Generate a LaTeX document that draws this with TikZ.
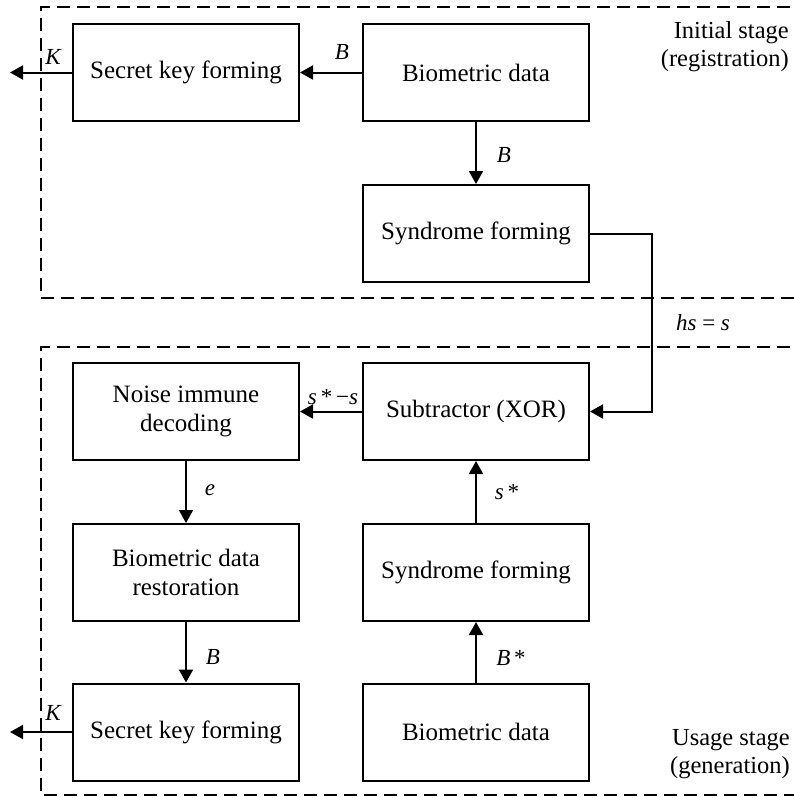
\documentclass[tikz,border=0pt]{standalone}
\usepackage{fontspec}
\setmainfont{Liberation Serif}
\usetikzlibrary{arrows.meta}
\tikzset{
  blk/.style={draw, line width=2pt, minimum width=226pt, minimum height=97pt, inner sep=0pt, align=center, font=\fontsize{25}{29}\selectfont},
  conn/.style={line width=2pt, -{Triangle[length=13pt,width=14pt]}},
  lbl/.style={font=\fontsize{23}{26}\itshape, inner sep=0pt},
  stage/.style={align=right, anchor=east, font=\fontsize{24.5}{28}\selectfont, inner sep=0pt},
  frame/.style={line width=1.6pt, dash pattern=on 13pt off 7pt}
}
\begin{document}
\begin{tikzpicture}[x=1pt,y=-1pt]
\useasboundingbox (0,0) rectangle (794,798);
% frames
\draw[frame] (810,7) -- (41,7) -- (41,298) -- (810,298);
\draw[frame] (810,347) -- (41,347) -- (41,795) -- (810,795);
% blocks
\node[blk] (sk1) at (186,72.5) {Secret key forming};
\node[blk] (bd1) at (476,72.5) {Biometric data};
\node[blk] (sf1) at (476,233.5) {Syndrome forming};
\node[blk] (nd) at (186,411.5) {Noise immune\\decoding};
\node[blk] (sub) at (476,411.5) {Subtractor (XOR)};
\node[blk] (br) at (186,572.5) {Biometric data\\restoration};
\node[blk] (sf2) at (476,572.5) {Syndrome forming};
\node[blk] (sk2) at (186,732) {Secret key forming};
\node[blk] (bd2) at (476,732) {Biometric data};
% free ends
\coordinate (k1) at (10,72.5);
\coordinate (k2) at (10,732);
\coordinate (c1) at (652,233.5);
\coordinate (c2) at (652,411.5);
% connectors
\draw[conn] (bd1.west) -- (sk1.east);
\draw[conn] (sk1.west) -- (k1);
\draw[conn] (bd1.south) -- (sf1.north);
\draw[conn] (sf1.east) -- (c1) -- (c2) -- (sub.east);
\draw[conn] (sub.west) -- (nd.east);
\draw[conn] (nd.south) -- (br.north);
\draw[conn] (sf2.north) -- (sub.south);
\draw[conn] (bd2.north) -- (sf2.south);
\draw[conn] (br.south) -- (sk2.north);
\draw[conn] (sk2.west) -- (k2);
% labels
\node[lbl] (lk1) at (53,57) {K};
\node[lbl] (lb1) at (342,52) {B};
\node[lbl] (lb2) at (504,155) {B};
\node[lbl] (lhs) at (703,323) {hs {\upshape =} s};
\node[lbl] (lss) at (333,397) {s\,{\upshape *}\,{\upshape −}s};
\node[lbl] (le) at (210,490) {e};
\node[lbl] (ls) at (507,492) {s\,{\upshape *}};
\node[lbl] (lbs) at (511,658) {B\,{\upshape *}};
\node[lbl] (lb3) at (213,657) {B};
\node[lbl] (lk2) at (53,713) {K};
% stage labels
\node[stage] (st1) at (789,47) {Initial stage\\(registration)};
\node[stage] (st2) at (790,754) {Usage stage\\(generation)};
\end{tikzpicture}
\end{document}
